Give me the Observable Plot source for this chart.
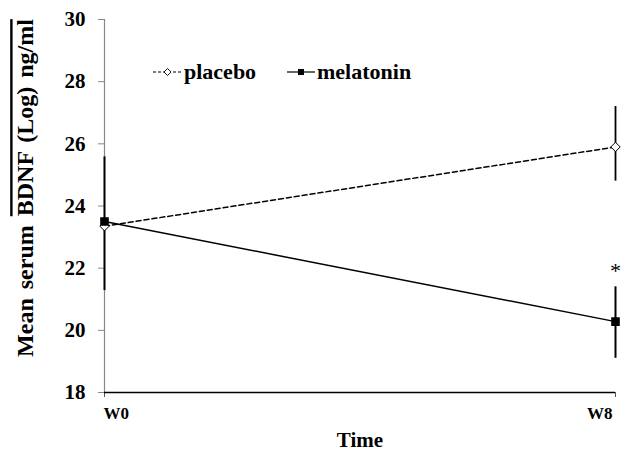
<!DOCTYPE html>
<html>
<head>
<meta charset="utf-8">
<script src="https://cdn.jsdelivr.net/npm/d3@7"></script>
<script src="https://cdn.jsdelivr.net/npm/@observablehq/plot@0.6"></script>
<style>
  html, body { margin: 0; padding: 0; background: #fff; }
  #chart { width: 622px; height: 456px; }
</style>
</head>
<body>
<div id="chart"></div>
<script>
// ---- data ----
const times = ["W0", "W8"];
const placeboMean = [23.35, 25.9];
const placeboLow = [NaN, 24.8];
const placeboHigh = [NaN, 27.2];
const melatoninMean = [23.5, 20.28];
const melatoninLow = [21.28, 19.1];
const melatoninHigh = [25.58, 21.4];
const yTicks = [18, 20, 22, 24, 26, 28, 30];
const seriesNames = ["placebo", "melatonin"];
const significance = [{time: "W8", y: 22, label: "*"}];

const placebo = times.map((t, i) => ({time: t, mean: placeboMean[i], low: placeboLow[i], high: placeboHigh[i]}));
const melatonin = times.map((t, i) => ({time: t, mean: melatoninMean[i], low: melatoninLow[i], high: melatoninHigh[i]}));

const font = "'Liberation Serif', 'Times New Roman', serif";

const chart = Plot.plot({
  width: 622,
  height: 456,
  marginLeft: 104,
  marginRight: 7,
  marginTop: 19,
  marginBottom: 64,
  style: {fontFamily: font, background: "white", color: "black"},
  x: {type: "point", domain: times, padding: 0},
  y: {domain: [18, 30]},
  marks: [
    Plot.axisY({ticks: yTicks, tickSize: 6, tickPadding: 13, fontSize: 21, fontWeight: "bold", stroke: "#888", fill: "black", label: null}),
    Plot.axisX({tickSize: 5, tickPadding: 9, fontSize: 17, fontWeight: "bold", stroke: "#555", fill: "black", label: null}),
    Plot.ruleX([times[0]], {stroke: "#888", strokeWidth: 1.2}),
    Plot.ruleY([18], {stroke: "black", strokeWidth: 1.5}),
    // error bars
    Plot.ruleX(placebo.filter(d => !isNaN(d.low)), {x: "time", y1: "low", y2: "high", stroke: "black", strokeWidth: 1.8}),
    Plot.ruleX(melatonin, {x: "time", y1: "low", y2: "high", stroke: "black", strokeWidth: 2}),
    // lines
    Plot.line(placebo, {x: "time", y: "mean", stroke: "black", strokeWidth: 1.5, strokeDasharray: "5,3"}),
    Plot.line(melatonin, {x: "time", y: "mean", stroke: "black", strokeWidth: 1.5}),
    Plot.dot(placebo, {x: "time", y: "mean", symbol: "diamond2", r: 4.2, fill: "white", stroke: "black", strokeWidth: 1}),
    Plot.dot(melatonin, {x: "time", y: "mean", symbol: "square", r: 4, fill: "black", stroke: "black"}),
    Plot.text(significance, {x: "time", y: "y", text: "label", fontSize: 22, dy: 3, fill: "black"}),
    Plot.text(["Time"], {frameAnchor: "bottom", dy: 54, fontSize: 21, fontWeight: "bold", fill: "black"}),
    Plot.text(["Mean serum BDNF (Log) ng/ml"], {frameAnchor: "left", textAnchor: "middle", dx: -79, dy: -18, rotate: -90, fontSize: 24, fontWeight: "bold", fill: "black"})
  ]
});

document.getElementById("chart").appendChild(chart);

const svg = d3.select(chart);
// x tick labels: first start-aligned, last end-aligned (as in reference)
svg.selectAll("g[aria-label='x-axis tick label'] text").each(function() {
  const txt = this.textContent;
  if (txt === times[0]) d3.select(this).attr("text-anchor", "start").attr("dx", -1);
  else if (txt === times[times.length - 1]) d3.select(this).attr("text-anchor", "end").attr("dx", -3);
});

// overline on part of y title
svg.selectAll("text").filter(function() { return this.textContent === "Mean serum BDNF (Log) ng/ml"; })
  .each(function() {
    const t = d3.select(this);
    t.text(null).style("word-spacing", "3px");
    t.append("tspan").text("Mean serum ");
    t.append("tspan").text("BDNF (Log) ng/ml").style("text-decoration", "overline");
  });

// legend
const leg = svg.append("g").attr("font-family", font).attr("font-weight", "bold").attr("font-size", 22).attr("text-anchor", "start");
const legendItems = [
  {name: seriesNames[0], x0: 153, x1: 182, tx: 184, dash: "3,2", sym: "diamond"},
  {name: seriesNames[1], x0: 287, x1: 315, tx: 317, dash: null, sym: "square"}
];
const ly = 72;
legendItems.forEach(it => {
  leg.append("line").attr("x1", it.x0).attr("x2", it.x1).attr("y1", ly).attr("y2", ly)
    .attr("stroke", "black").attr("stroke-width", 1.2).attr("stroke-dasharray", it.dash);
  const cx = (it.x0 + it.x1) / 2;
  if (it.sym === "diamond") {
    leg.append("path").attr("d", `M${cx},${ly-3.5}L${cx+3.5},${ly}L${cx},${ly+3.5}L${cx-3.5},${ly}Z`)
      .attr("fill", "white").attr("stroke", "black").attr("stroke-width", 0.9);
  } else {
    leg.append("rect").attr("x", cx - 3).attr("y", ly - 3).attr("width", 6).attr("height", 6).attr("fill", "black");
  }
  leg.append("text").attr("x", it.tx).attr("y", ly).attr("dy", "0.32em").attr("text-anchor", "start").attr("fill", "black").text(it.name);
});
</script>
</body>
</html>
